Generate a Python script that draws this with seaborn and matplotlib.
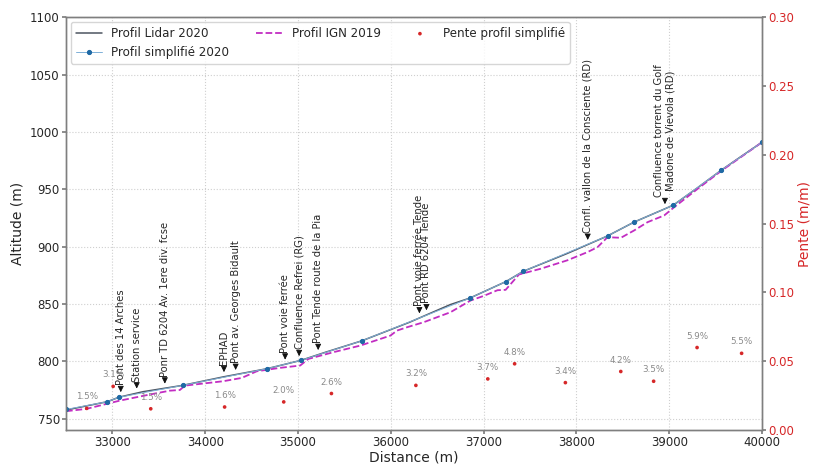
import numpy as np
import matplotlib
matplotlib.use("Agg")
import matplotlib.pyplot as plt
import seaborn as sns

# ---------------- data ----------------
lidar_dist = [32500, 32946, 33071, 33330, 33756, 34200, 34663, 35030, 35300, 35689,
              36200, 36643, 36851, 37240, 37428, 37900, 38335, 38622, 39043, 39300,
              39560, 39800, 40000]
lidar_alt = [757.5, 764.8, 768.7, 773.5, 779.0, 786.5, 793.5, 800.8, 808.0, 817.9,
             834.0, 849.5, 855.1, 869.5, 878.5, 894.0, 909.3, 921.4, 936.1, 951.0,
             966.6, 980.0, 991.0]

ign_dist = [32500, 32719, 33079, 33400, 33619, 33727, 33781, 34191, 34393, 34555,
            34807, 35023, 35112, 35379, 35671, 35995, 36067, 36175, 36355, 36643,
            36859, 37000, 37150, 37237, 37381, 37615, 37900, 38119, 38227, 38335,
            38479, 38622, 38766, 38946, 39054, 39300, 39560, 40000]
ign_alt = [756.5, 758.5, 765.7, 771.0, 774.4, 775.0, 778.8, 782.6, 785.5, 791.3,
           794.3, 796.3, 802.1, 807.9, 813.7, 822.4, 826.8, 829.7, 834.1, 842.8,
           853.0, 857.0, 862.0, 862.3, 875.7, 880.7, 888.0, 895.2, 899.5, 908.2,
           907.7, 914.1, 921.3, 927.2, 934.4, 950.0, 966.0, 991.0]

simpl_dist = [32500, 32946, 33071, 33756, 34663, 35030, 35689, 36851, 37240, 37428,
              38335, 38622, 39043, 39560, 40000]
simpl_alt = [758.0, 764.8, 768.7, 779.0, 793.5, 800.8, 817.9, 855.1, 869.5, 878.5,
             909.3, 921.4, 936.1, 966.6, 991.0]

slope_dist = [32723, 33008, 33413, 34209, 34846, 35360, 36270, 37045, 37334, 37881,
              38478, 38832, 39300, 39780]
slope_val = [0.0158, 0.0318, 0.0155, 0.0168, 0.0205, 0.0266, 0.0325, 0.0372, 0.0482,
             0.0345, 0.0426, 0.0355, 0.0600, 0.0558]
slope_labels = ["1.5%", "3.1%", "1.5%", "1.6%", "2.0%", "2.6%", "3.2%", "3.7%", "4.8%",
                "3.4%", "4.2%", "3.5%", "5.9%", "5.5%"]

poi_dist = [33090, 33262, 33565, 34202, 34328, 34861, 35012, 35217, 36308, 36384,
            38122, 38954]
poi_labels = ["Pont des 14 Arches", "Station service", "Ponr TD 6204 Av. 1ere div. fcse",
              "EPHAD", "Pont av. Georges Bidault", "Pont voie ferrée",
              "Confluence Refrei (RG)", "Pont Tende route de la Pia",
              "Pont voie ferrée Tende", "Pont RD 6204 Tende",
              "Confl. vallon de la Consciente (RD)",
              "Confluence torrent du Golf\nMadone de Vievola (RD)"]

x_ticks = [33000, 34000, 35000, 36000, 37000, 38000, 39000, 40000]
alt_ticks = [750, 800, 850, 900, 950, 1000, 1050, 1100]
slope_ticks = [0.00, 0.05, 0.10, 0.15, 0.20, 0.25, 0.30]

# ---------------- plot ----------------
sns.set_theme(style="white")
plt.rcParams["font.family"] = ["DejaVu Sans"]

RED = "#d62728"
SPINE = "#7f7f7f"

fig = plt.figure(figsize=(8.15, 4.66), dpi=100)
ax = fig.add_axes([0.081, 0.077, 0.854, 0.886])
ax2 = ax.twinx()

sns.lineplot(x=lidar_dist, y=lidar_alt, ax=ax, color="#4d5560", lw=1.1,
             label="Profil Lidar 2020", legend=False, estimator=None, zorder=3)
sns.lineplot(x=simpl_dist, y=simpl_alt, ax=ax, color="#7fb0d8", lw=0.7,
             marker="o", markersize=3, markerfacecolor="#1f6aa5",
             markeredgecolor="#1f6aa5", label="Profil simplifié 2020",
             legend=False, estimator=None, zorder=4)
sns.lineplot(x=ign_dist, y=ign_alt, ax=ax, color="#c22dc2", lw=1.3, linestyle="--",
             label="Profil IGN 2019", legend=False, estimator=None, zorder=3)

sns.scatterplot(x=slope_dist, y=slope_val, ax=ax2, color=RED, s=7, edgecolor="none",
                label="Pente profil simplifié", legend=False, zorder=5)
for d, v, t in zip(slope_dist, slope_val, slope_labels):
    ax2.annotate(t, xy=(d, v), xytext=(0, 5), textcoords="offset points",
                 ha="center", va="bottom", fontsize=6.3, color="#8a8a8a")

for d, t in zip(poi_dist, poi_labels):
    yline = np.interp(d, lidar_dist, lidar_alt)
    ax.annotate(t, xy=(d, yline + 4), xytext=(0, 5), textcoords="offset points",
                rotation=90, ha="center", va="bottom", multialignment="center",
                fontsize=7.2, color="#262626",
                arrowprops=dict(arrowstyle="-|>,head_length=0.5,head_width=0.25",
                                color="#111111", lw=0.6, shrinkA=0, shrinkB=0),
                zorder=6)

ax.set_xlim(32500, 40000)
ax.set_ylim(740, 1100)
ax2.set_ylim(0, 0.30)
ax.set_xticks(x_ticks)
ax.set_yticks(alt_ticks)
ax2.set_yticks(slope_ticks)
ax2.set_yticklabels([f"{v:.2f}" for v in slope_ticks])

ax.grid(True, linestyle=":", color="#cfcfcf", lw=0.8)
ax2.grid(False)
ax.set_xlabel("Distance (m)", fontsize=10, labelpad=1)
ax.set_ylabel("Altitude (m)", fontsize=10, labelpad=4)
ax2.set_ylabel("Pente (m/m)", fontsize=10, color=RED, labelpad=2)

ax.tick_params(axis="both", labelsize=8.5, length=3, color=SPINE, pad=1.5,
               left=True, bottom=True)
ax2.tick_params(axis="y", labelsize=8.5, labelcolor=RED, length=3, color=SPINE,
                pad=1.5, right=True)
for a in (ax, ax2):
    for s in a.spines.values():
        s.set_color(SPINE)
        s.set_linewidth(1.0)

h1, l1 = ax.get_legend_handles_labels()
h2, l2 = ax2.get_legend_handles_labels()
leg = ax2.legend(h1 + h2, l1 + l2, loc="upper left", ncol=3, fontsize=8.6,
                 columnspacing=2.2, handlelength=2.2, frameon=True,
                 borderaxespad=0.4)
leg.get_frame().set_edgecolor("#cccccc")

fig.savefig("out.png", dpi=100)
